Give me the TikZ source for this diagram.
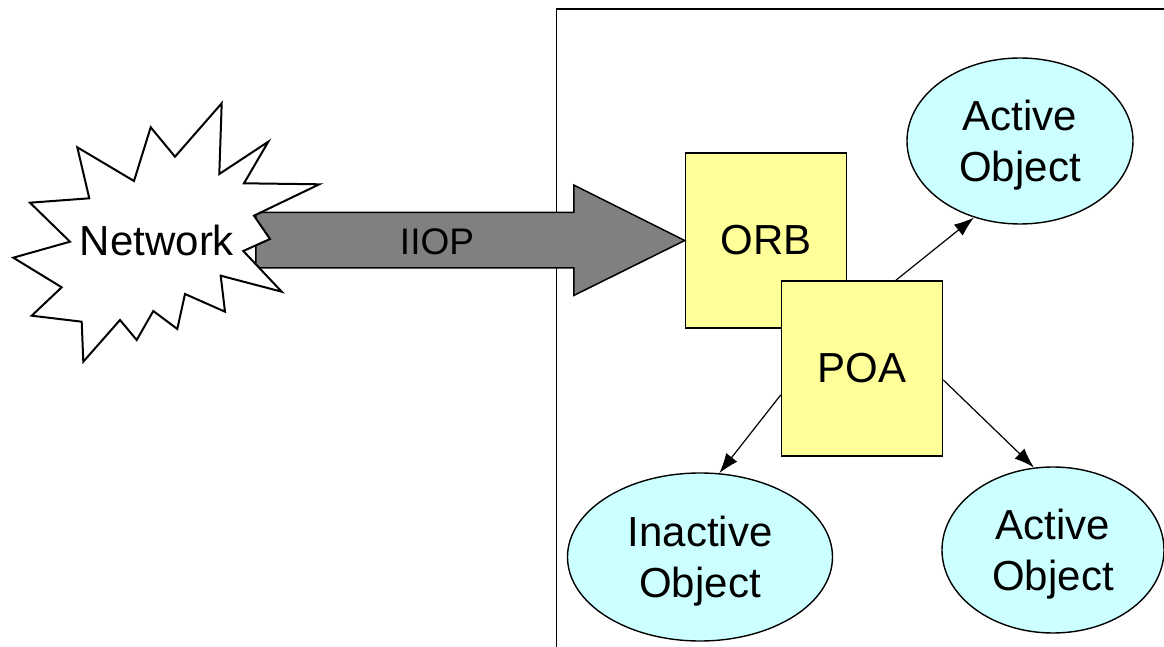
\documentclass[tikz,border=0pt]{standalone}
\usepackage{fontspec}
\setmainfont{Liberation Sans}
\usepackage{tikz}
\usetikzlibrary{shapes,arrows.meta}

\definecolor{orbyellow}{HTML}{FFFF99}
\definecolor{objcyan}{HTML}{CCFFFF}
\definecolor{pipegray}{HTML}{808080}

\begin{document}
\begin{tikzpicture}[
    x = 0.5pt, y = -0.5pt,
    box/.style={
        draw,
        fill = orbyellow,
        minimum width = 80.5pt,
        minimum height = 87.5pt,
        inner sep = 0pt,
        line width = 0.75pt,
        font = \fontsize{21}{25.5}\selectfont
    },
    obj/.style={
        draw,
        ellipse,
        fill = objcyan,
        inner sep = 0pt,
        align = center,
        text depth = -1.5pt,
        line width = 0.7pt,
        font = \fontsize{21}{25.5}\selectfont
    },
    burst/.style={
        draw,
        fill = white,
        line width = 1pt,
        line join = miter
    },
    bigarrow/.style={
        draw,
        fill = pipegray,
        line width = 0.75pt,
        line join = miter
    },
    link/.style={
        ->,
        line width = 0.6pt
    },
    >={Latex[length=10pt,width=7pt]}
]
\useasboundingbox (0,0) rectangle (1164,647);

% server frame
\draw[line width=0.75pt] (556.5,647) |- (1164,9);

\node[box] (orb) at (766,240.5) {ORB};

% IIOP pipe into the ORB
\draw[bigarrow] (orb.west) -- ++(-111,-55.5) -- ++(0,27.5) -- ++(-318,0)
    -- ++(0,55.5) -- ++(318,0) -- ++(0,27.5) -- cycle;
\node[font=\fontsize{18.5}{22}\selectfont] (iiop) at (437,242) {IIOP};

% network cloud
\draw[burst] (221.7,103.3) -- (219.3,174) -- (268.3,141.7) -- (244,183.3)
    -- (319.3,184.3) -- (254,215.7) -- (270,239) -- (243.3,251)
    -- (281.7,291.7) -- (220.7,275.7) -- (225,311.7) -- (185,294)
    -- (177.3,329) -- (153.3,311) -- (136.7,340) -- (120,320)
    -- (83.3,361.7) -- (81.7,321.7) -- (31.7,315.7) -- (61.7,287.3)
    -- (13.3,257.7) -- (70,241.7) -- (30,202.7) -- (89.3,198.3)
    -- (77.3,147.3) -- (134,181) -- (150.7,127.3) -- (175,156.7) -- cycle;
\node[font=\fontsize{21}{25.5}\selectfont] (net) at (157,240) {Network};

\node[box] (poa) at (862,368.5) {POA};

\node[obj, minimum width=113pt, minimum height=83pt] (act1) at (1020,141) {Active\\Object};
\node[obj, minimum width=132.5pt, minimum height=84pt] (inact) at (700,557) {Inactive\\Object};
\node[obj, minimum width=111pt, minimum height=83pt] (act2) at (1053,550) {Active\\Object};

\draw[link] (poa.69) -- (act1.239);
\draw[link] (poa.198) -- (inact.77);
\draw[link] (poa.-8) -- (act2.103);

\end{tikzpicture}
\end{document}
